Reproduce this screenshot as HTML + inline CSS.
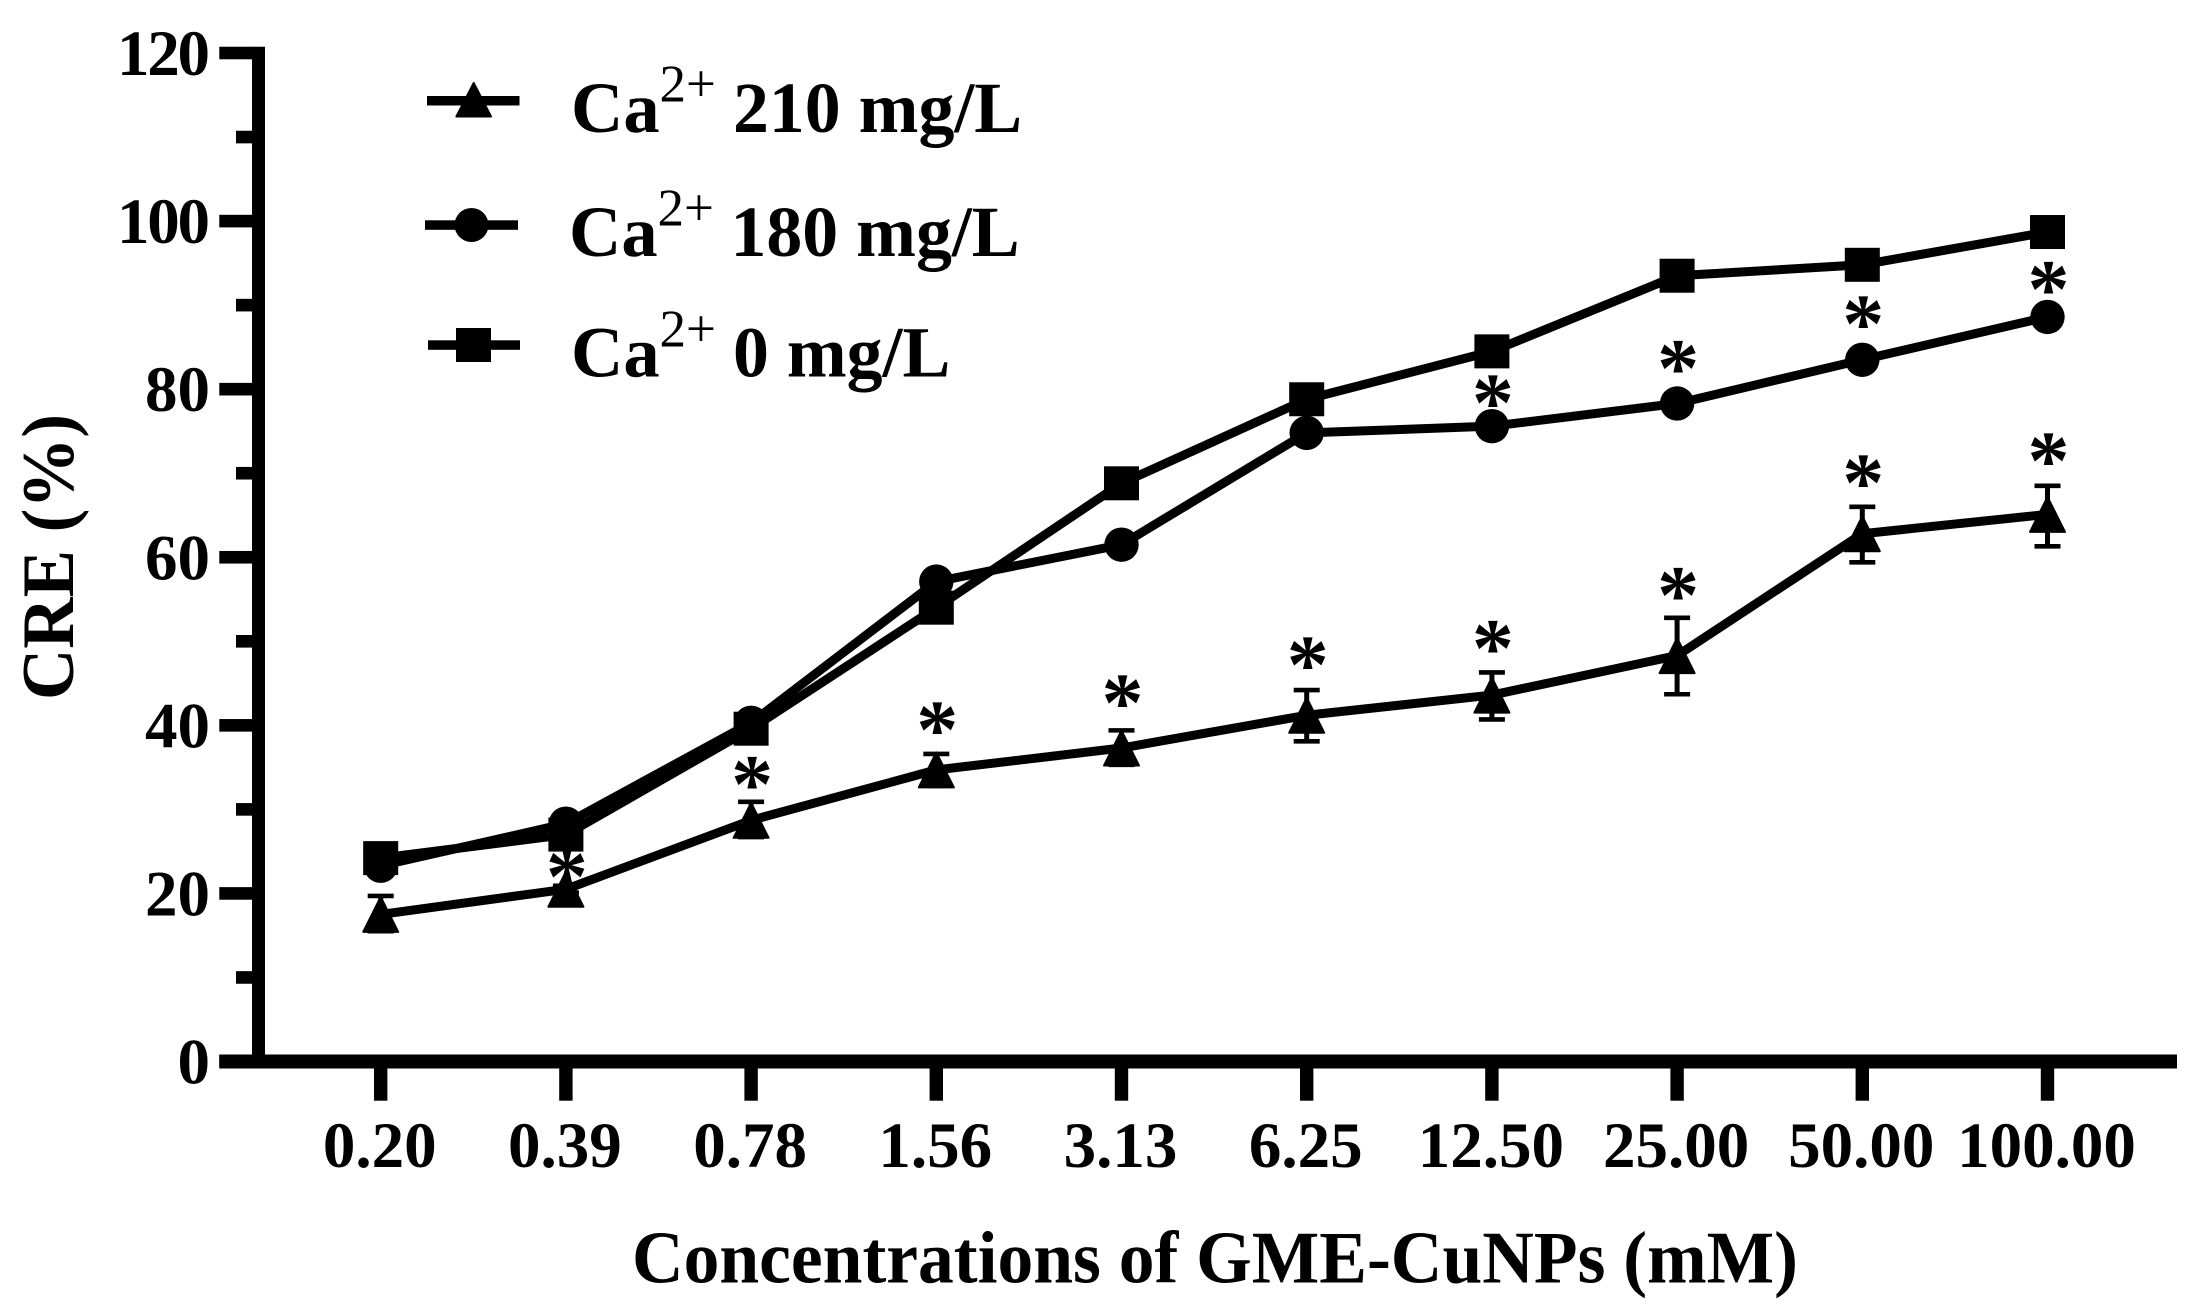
<!DOCTYPE html>
<html lang="en">
<head>
<meta charset="utf-8">
<title>CRE vs GME-CuNPs concentration</title>
<style>
html,body{margin:0;padding:0;background:#fff;}
svg{display:block;}
text{font-family:"Liberation Serif",serif;font-weight:bold;fill:#000;}
</style>
</head>
<body>
<svg id="chart" xmlns="http://www.w3.org/2000/svg" width="2199" height="1311" viewBox="0 0 2199 1311">
  <rect x="0" y="0" width="2199" height="1311" fill="#fff"/>
  <g id="axes"></g>
  <g id="marks"></g>

  <text transform="translate(73,700) rotate(-90)" font-size="74" textLength="286" lengthAdjust="spacingAndGlyphs">CRE (%)</text>
  <text x="632" y="1282.5" font-size="74" textLength="1166" lengthAdjust="spacingAndGlyphs">Concentrations of GME-CuNPs (mM)</text>

  <g>
    <g>
      <rect x="427" y="96" width="92.5" height="9.5"/>
      <polygon points="473.7,83 491,116.5 456.4,116.5" stroke="#000" stroke-width="2" stroke-linejoin="round"/>
      <text font-size="72.5"><tspan x="571" y="132">Ca</tspan><tspan x="659.5" y="101.7" font-size="53" font-weight="normal">2+</tspan><tspan x="733" y="132" font-size="71.8">210 mg/L</tspan></text>
    </g>
    <g>
      <rect x="425" y="220.3" width="93" height="9.5"/>
      <circle cx="471.5" cy="225" r="17"/>
      <text font-size="72.5"><tspan x="569" y="256">Ca</tspan><tspan x="657.5" y="225.7" font-size="53" font-weight="normal">2+</tspan><tspan x="730.5" y="256" font-size="71.8">180 mg/L</tspan></text>
    </g>
    <g>
      <rect x="428" y="340.3" width="92" height="9.5"/>
      <rect x="456" y="328" width="35" height="34"/>
      <text font-size="72.5"><tspan x="571" y="376.7">Ca</tspan><tspan x="659.5" y="346.4" font-size="53" font-weight="normal">2+</tspan><tspan x="733" y="376.7" font-size="71.8">0 mg/L</tspan></text>
    </g>
  </g>
</svg>
<script>
// ----- chart data -----
const categories = ["0.20","0.39","0.78","1.56","3.13","6.25","12.50","25.00","50.00","100.00"];
const yMajorTicks = [0,20,40,60,80,100,120];
const yMinorTicks = [10,30,50,70,90,110];
const ca210 = [17.5,20.5,28.7,34.7,37.3,41.2,43.6,48.3,62.8,65.1];
const ca210ErrUp = [2.2,0.4,2.2,1.9,2.1,3.0,2.7,4.5,3.2,3.4];
const ca210ErrDown = [2.0,0.4,2.0,1.9,2.0,3.1,2.9,4.6,3.4,3.8];
const ca180 = [23.3,28.3,40.3,57.1,61.5,74.8,75.6,78.3,83.5,88.6];
const ca0 = [24.2,27.0,39.6,54.0,68.8,78.8,84.5,93.5,94.8,98.7];
// significance asterisk heights, in CRE (%) units; null = no asterisk
const star210 = [null,23.2,34.2,40.7,43.9,48.4,50.4,56.7,70.1,72.7];
const star180 = [null,null,null,null,null,null,79.6,83.7,89.0,93.1];

// ----- axis functions -----
const xStart = 380.7, xStep = 185.2;
const yZero = 1061.5, yPerUnit = 8.404;
function xPos(i){ return xStart + i * xStep; }
function yPos(v){ return yZero - v * yPerUnit; }

const NS = "http://www.w3.org/2000/svg";
const axes = document.getElementById("axes");
const marks = document.getElementById("marks");
function mk(tag, parent){
  const el = document.createElementNS(NS, tag);
  parent.appendChild(el);
  return el;
}
function setAll(el, pairs){
  for (const k in pairs) el.setAttribute(k, pairs[k]);
}

// ----- axes -----
const yLine = mk("rect", axes);
setAll(yLine, {x:252, y:yPos(120)-6.3, width:13, height:yZero+7-(yPos(120)-6.3)});



const xLine = mk("rect", axes);
setAll(xLine, {x:219.3, y:yZero-7, width:2177-219.3, height:14});



yMajorTicks.forEach(function(v){
  const t = mk("rect", axes);
  setAll(t, {x:219.3, y:yPos(v)-6.3, width:34, height:12.6});
  
  
  const l = mk("text", axes);
  setAll(l, {x:210, y:yPos(v)+22, "font-size":65, "text-anchor":"end"});
  if (String(v).length === 3) {
    l.setAttribute("textLength", 93);
    l.setAttribute("lengthAdjust", "spacing");
  }
  l.textContent = String(v);
  
  
});
yMinorTicks.forEach(function(v){
  const t = mk("rect", axes);
  setAll(t, {x:236, y:yPos(v)-6.3, width:17, height:12.6});
  
  
});
categories.forEach(function(c, i){
  const t = mk("rect", axes);
  setAll(t, {x:xPos(i)-6.7, y:yZero+6, width:13.4, height:33.2});
  
  
  const l = mk("text", axes);
  setAll(l, {x:xPos(i)-1, y:1167, "font-size":65, "text-anchor":"middle"});
  l.textContent = c;
  
  
});

// ----- asterisks -----
function drawStars(arr){
  arr.forEach(function(v, i){
    if (v === null) return;
    const s = mk("text", marks);
    setAll(s, {x:xPos(i)+1, y:yPos(v)+38, "font-size":84, "text-anchor":"middle"});
    s.textContent = "*";
    
    
  });
}
drawStars(star210);
drawStars(star180);

// ----- error bars -----
ca210.forEach(function(v, i){
  const hi = yPos(v + ca210ErrUp[i]);
  const lo = yPos(v - ca210ErrDown[i]);
  const stem = mk("line", marks);
  setAll(stem, {x1:xPos(i), x2:xPos(i), y1:hi, y2:lo, stroke:"#000", "stroke-width":5});
  
  
  [hi, lo].forEach(function(y){
    const cap = mk("line", marks);
    setAll(cap, {x1:xPos(i)-13, x2:xPos(i)+13, y1:y, y2:y, stroke:"#000", "stroke-width":4.6});
    
    
  });
});

// ----- series lines -----
function linePoints(arr){
  return arr.map(function(v, i){ return xPos(i) + "," + yPos(v); }).join(" ");
}
const line210 = mk("polyline", marks);
setAll(line210, {points:linePoints(ca210), fill:"none", stroke:"#000", "stroke-width":9, "stroke-linejoin":"round"});



const line180 = mk("polyline", marks);
setAll(line180, {points:linePoints(ca180), fill:"none", stroke:"#000", "stroke-width":9, "stroke-linejoin":"round"});



const line0 = mk("polyline", marks);
setAll(line0, {points:linePoints(ca0), fill:"none", stroke:"#000", "stroke-width":9, "stroke-linejoin":"round"});



// ----- point markers -----
ca210.forEach(function(v, i){
  const cx = xPos(i), cy = yPos(v);
  const p = mk("polygon", marks);
  p.setAttribute("points", cx + "," + (cy-17.5) + " " + (cx+17.5) + "," + (cy+17.5) + " " + (cx-17.5) + "," + (cy+17.5));
  p.setAttribute("stroke", "#000");
  p.setAttribute("stroke-width", 2);
  p.setAttribute("stroke-linejoin", "round");
  
  
});
ca180.forEach(function(v, i){
  const c = mk("circle", marks);
  setAll(c, {cx:xPos(i), cy:yPos(v), r:17.2});
  
  
});
ca0.forEach(function(v, i){
  const r = mk("rect", marks);
  setAll(r, {x:xPos(i)-17.5, y:yPos(v)-17, width:35, height:34});
  
  
});
</script>
</body>
</html>
